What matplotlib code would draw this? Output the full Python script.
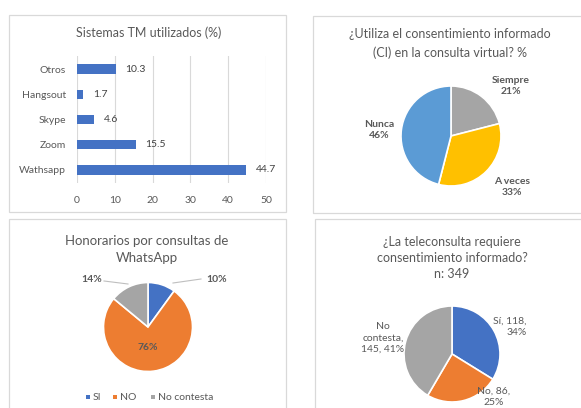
import matplotlib
matplotlib.use("Agg")
import matplotlib.pyplot as plt
from matplotlib.patches import Rectangle

plt.rcParams['font.family'] = ['Lato', 'DejaVu Sans']

# ---------------- data ----------------
tm_categories = ["Wathsapp", "Zoom", "Skype", "Hangsout", "Otros"]
tm_values = [44.7, 15.5, 4.6, 1.7, 10.3]
tm_xticks = [0, 10, 20, 30, 40, 50]

ci_labels = ["Siempre", "A veces", "Nunca"]
ci_values = [21, 33, 46]

hon_labels = ["SI", "NO", "No contesta"]
hon_values = [10, 76, 14]

tele_labels = ["Sí", "No", "No contesta"]
tele_counts = [118, 86, 145]
tele_pcts = [34, 25, 41]

W, H = 581, 408
fig = plt.figure(figsize=(W / 100, H / 100), dpi=100)
fig.patch.set_facecolor("white")

def box(l, t, r, b):
    return [l / W, 1 - b / H, (r - l) / W, (b - t) / H]

def fxy(x, y):
    return (x / W, 1 - y / H)

TXT = "#595959"
BORDER = "#D9D9D9"

# panel borders
for (l, t, r, b) in [(9, 15, 286, 212), (313, 16, 590, 213), (9, 219, 286, 420), (315, 219, 590, 420)]:
    fig.patches.append(Rectangle((l / W, 1 - b / H), (r - l) / W, (b - t) / H,
                                 transform=fig.transFigure, fill=False,
                                 edgecolor=BORDER, linewidth=0.9))

# ---------------- bar chart ----------------
ax1 = fig.add_axes(box(77, 56.4, 266, 182.6))
ypos = list(range(len(tm_categories)))
ax1.barh(ypos, tm_values, height=0.36, color="#4472C4", zorder=3)
ax1.set_xlim(0, 50)
ax1.set_ylim(-0.5, len(tm_categories) - 0.5)
ax1.set_xticks(tm_xticks)
ax1.set_yticks(ypos)
ax1.set_yticklabels(tm_categories)
ax1.tick_params(length=0, labelsize=7.5, labelcolor=TXT)
ax1.tick_params(axis="x", pad=10)
ax1.tick_params(axis="y", pad=8)
for s in ax1.spines.values():
    s.set_visible(False)
ax1.grid(axis="x", color=BORDER, linewidth=0.8, zorder=0)
for y, v in zip(ypos, tm_values):
    ax1.annotate(f"{v}", (v, y), xytext=(7, 0), textcoords="offset points",
                 va="center", ha="left", fontsize=7.5, color="#404040")
fig.text(*fxy(149, 33), "Sistemas TM utilizados (%)", ha="center", va="center",
         fontsize=9, color=TXT)

# ---------------- pie CI ----------------
def pie_axes(cx, cy, r):
    return fig.add_axes(box(cx - r, cy - r, cx + r, cy + r))

ax2 = pie_axes(451, 136, 50)
ax2.pie(ci_values, colors=["#A5A5A5", "#FFC000", "#5B9BD5"], startangle=90,
        counterclock=False, wedgeprops=dict(edgecolor="white", linewidth=1.2))
ax2.set_xlim(-1, 1); ax2.set_ylim(-1, 1); ax2.set_aspect("equal"); ax2.axis("off")
ci_pos = [(511, 86), (512, 187), (379, 130)]
for lab, v, (x, y) in zip(ci_labels, ci_values, ci_pos):
    fig.text(*fxy(x, y), f"{lab}\n{v}%", ha="center", va="center", fontsize=7.5,
             fontweight="bold", color=TXT, linespacing=1.4)
fig.text(*fxy(450, 43.5), "¿Utiliza el consentimiento informado\n(CI) en la consulta virtual? %",
         ha="center", va="center", fontsize=9, color=TXT, linespacing=1.55)

# ---------------- pie Honorarios ----------------
ax3 = pie_axes(148, 327, 44.5)
ax3.pie(hon_values, colors=["#4472C4", "#ED7D31", "#A5A5A5"], startangle=90,
        counterclock=False, wedgeprops=dict(edgecolor="white", linewidth=1.2))
ax3.set_xlim(-1, 1); ax3.set_ylim(-1, 1); ax3.set_aspect("equal"); ax3.axis("off")
fig.text(*fxy(217, 279), f"{hon_values[0]}%", ha="center", va="center", fontsize=7.5,
         fontweight="bold", color=TXT)
fig.text(*fxy(148, 348), f"{hon_values[1]}%", ha="center", va="center", fontsize=7.5,
         fontweight="bold", color=TXT)
fig.text(*fxy(92, 279), f"{hon_values[2]}%", ha="center", va="center", fontsize=7.5,
         fontweight="bold", color=TXT)
fig.lines.append(plt.Line2D([fxy(173, 283)[0], fxy(201, 279)[0]], [fxy(173, 283)[1], fxy(201, 279)[1]],
                            transform=fig.transFigure, color="#BFBFBF", linewidth=0.8))
fig.lines.append(plt.Line2D([fxy(104, 281)[0], fxy(128, 284)[0]], [fxy(104, 281)[1], fxy(128, 284)[1]],
                            transform=fig.transFigure, color="#BFBFBF", linewidth=0.8))
fig.text(*fxy(147, 249), "Honorarios por consultas de\nWhatsApp", ha="center", va="center",
         fontsize=9.5, color=TXT, linespacing=1.5)
# legend
leg_x = [86, 113, 151]
for (x, lab, col) in zip(leg_x, hon_labels, ["#4472C4", "#ED7D31", "#A5A5A5"]):
    fig.patches.append(Rectangle(fxy(x, 399), 4 / W, 4 / H, transform=fig.transFigure,
                                 facecolor=col, edgecolor="none"))
    fig.text(*fxy(x + 7, 397), lab, ha="left", va="center", fontsize=7.5, color=TXT)

# ---------------- pie teleconsulta ----------------
ax4 = pie_axes(452, 354, 48)
ax4.pie(tele_counts, colors=["#4472C4", "#ED7D31", "#A5A5A5"], startangle=90,
        counterclock=False, wedgeprops=dict(edgecolor="white", linewidth=1.2))
ax4.set_xlim(-1, 1); ax4.set_ylim(-1, 1); ax4.set_aspect("equal"); ax4.axis("off")
fig.text(*fxy(510, 327), f"{tele_labels[0]}, {tele_counts[0]},\n{tele_pcts[0]}%", ha="center",
         va="center", fontsize=7.5, color=TXT, linespacing=1.3, multialignment="right")
fig.text(*fxy(494, 397), f"{tele_labels[1]}, {tele_counts[1]},\n{tele_pcts[1]}%", ha="center",
         va="center", fontsize=7.5, color=TXT, linespacing=1.3)
fig.text(*fxy(383, 338), f"No\ncontesta,\n{tele_counts[2]}, {tele_pcts[2]}%", ha="center",
         va="center", fontsize=7.5, color=TXT, linespacing=1.3)
fig.text(*fxy(452, 258), "¿La teleconsulta requiere\nconsentimiento informado?\nn: 349",
         ha="center", va="center", fontsize=9, color=TXT, linespacing=1.35)

fig.savefig("out.png", dpi=100)
